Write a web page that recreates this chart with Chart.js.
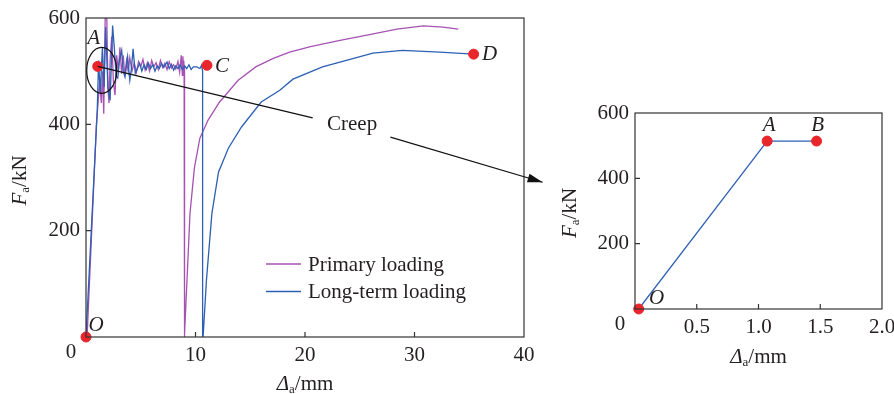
<!DOCTYPE html>
<html>
<head>
<meta charset="utf-8">
<script src="https://cdn.jsdelivr.net/npm/chart.js@4.4.1/dist/chart.umd.min.js"></script>
<style>
  html, body { margin: 0; padding: 0; background: #fff; }
  #wrap { position: relative; width: 894px; height: 394px; }
  #leftBox { position: absolute; left: 0; top: 0; width: 560px; height: 394px; }
  #rightBox { position: absolute; left: 560px; top: 0; width: 334px; height: 394px; }
</style>
</head>
<body>
<div id="wrap">
  <div id="leftBox"><canvas id="chartLeft"></canvas></div>
  <div id="rightBox"><canvas id="chartRight"></canvas></div>
</div>
<script>
// ================================
// DATA
// ================================
const primaryX = [0.1, 0.95, 1.25, 1.4, 1.5, 1.62, 1.72, 1.8, 1.9, 2.0, 2.1, 2.2, 2.35, 2.5, 2.65, 2.8, 2.95, 3.1, 3.25, 3.4, 3.55, 3.7, 3.85, 4.0, 4.2, 4.4, 4.6, 4.8, 5.0, 5.2, 5.4, 5.6, 5.8, 6.0, 6.2, 6.4, 6.6, 6.8, 7.0, 7.2, 7.4, 7.6, 7.8, 8.0, 8.2, 8.4, 8.55, 8.7, 8.8, 8.85, 8.9, 8.93, 8.96, 8.98, 8.98, 9.04, 9.5, 9.9, 10.4, 11.15, 12.2, 13.9, 15.5, 17.1, 18.6, 20.5, 23.2, 26.0, 28.4, 30.8, 32.6, 34.0];
const primaryY = [0, 400, 480, 440, 500, 420, 560, 660, 600, 470, 440, 520, 565, 480, 455, 530, 500, 545, 495, 530, 490, 520, 500, 525, 500, 515, 498, 518, 508, 522, 502, 516, 500, 520, 508, 516, 503, 520, 507, 515, 503, 518, 506, 512, 504, 518, 498, 530, 492, 528, 496, 520, 505, 510, 0, 5, 233, 318, 374, 408, 442, 483, 508, 524, 536, 546, 558, 569, 579, 585, 583, 579];

const longTermX = [0, 1.03, 1.15, 1.3, 1.5, 1.65, 1.8, 2.0, 2.2, 2.43, 2.6, 2.75, 2.9, 3.05, 3.26, 3.4, 3.56, 3.8, 4.0, 4.15, 4.3, 4.5, 4.7, 4.9, 5.1, 5.3, 5.5, 5.7, 5.9, 6.1, 6.3, 6.5, 6.7, 6.9, 7.1, 7.4, 7.6, 7.8, 8.0, 8.2, 8.4, 8.6, 8.8, 9.0, 9.2, 9.4, 9.6, 9.8, 10.1, 10.4, 10.56, 10.65, 10.65, 10.7, 11.0, 11.5, 12.1, 13.0, 14.2, 16.0, 17.7, 18.9, 21.6, 26.2, 28.9, 32.3, 35.4];
const longTermY = [0, 427, 520, 460, 545, 470, 583, 470, 445, 586, 540, 490, 487, 520, 539, 500, 489, 527, 483, 505, 542, 496, 505, 515, 500, 512, 503, 515, 505, 512, 500, 510, 505, 515, 507, 517, 505, 513, 502, 510, 505, 512, 503, 510, 505, 512, 503, 508, 508, 505, 511, 500, 0, 2, 107, 233, 310, 355, 395, 442, 464, 485, 508, 534, 539, 536, 532];

const leftPointNames = ["O", "A", "C", "D"];
const leftPointX = [0, 1.07, 11.05, 35.4];
const leftPointY = [0, 509, 511, 532];

const creepNames = ["O", "A", "B"];
const creepX = [0.03, 1.07, 1.47];
const creepY = [0, 514, 514];

const leftXTicks = [0, 10, 20, 30, 40];
const leftYTicks = [0, 200, 400, 600];
const rightXTicks = [0, 0.5, 1.0, 1.5, 2.0];
const rightYTicks = [0, 200, 400, 600];

const seriesNames = ["Primary loading", "Long-term loading"];

// ================================
// STYLE
// ================================
const PURPLE = "#a652b3";
const BLUE = "#2d5fb3";
const RED = "#e8262b";
const INK = "#231f20";
const SERIF = '"Liberation Serif", "DejaVu Serif", serif';

const pts = (xs, ys) => xs.map((x, i) => ({ x, y: ys[i] }));

function drawTitle(ctx, cx, cy, angle, sym, sub, unit) {
  ctx.save();
  ctx.translate(cx, cy);
  ctx.rotate(angle);
  ctx.fillStyle = INK;
  ctx.textBaseline = "middle";
  ctx.textAlign = "left";
  const fSym = "italic 21px " + SERIF;
  const fSub = "13px " + SERIF;
  const fUnit = "21px " + SERIF;
  ctx.font = fSym; const w1 = ctx.measureText(sym).width;
  ctx.font = fSub; const w2 = ctx.measureText(sub).width;
  ctx.font = fUnit; const w3 = ctx.measureText(unit).width;
  let x = -(w1 + w2 + w3) / 2;
  ctx.font = fSym; ctx.fillText(sym, x, 0); x += w1;
  ctx.font = fSub; ctx.fillText(sub, x, 6); x += w2;
  ctx.font = fUnit; ctx.fillText(unit, x, 0);
  ctx.restore();
}

function drawFrame(chart) {
  const { ctx, chartArea: a, scales } = chart;
  ctx.save();
  ctx.strokeStyle = "#333";
  ctx.lineWidth = 1.2;
  ctx.strokeRect(a.left, a.top, a.right - a.left, a.bottom - a.top);
  ctx.beginPath();
  scales.x.ticks.forEach((t) => {
    const px = scales.x.getPixelForValue(t.value);
    if (px <= a.left + 1 || px >= a.right - 1) return;
    ctx.moveTo(px, a.bottom); ctx.lineTo(px, a.bottom - 5);
  });
  scales.y.ticks.forEach((t) => {
    const py = scales.y.getPixelForValue(t.value);
    if (py <= a.top + 1 || py >= a.bottom - 1) return;
    ctx.moveTo(a.left, py); ctx.lineTo(a.left + 5, py);
  });
  ctx.stroke();
  // shared "0" in the corner
  ctx.fillStyle = INK;
  ctx.font = "21px " + SERIF;
  ctx.textAlign = "center";
  ctx.textBaseline = "middle";
  ctx.fillText("0", a.left - 15, a.bottom + 15);
  ctx.restore();
}

function drawPointLabels(chart, names, xs, ys, offsets) {
  const { ctx, scales } = chart;
  ctx.save();
  ctx.fillStyle = INK;
  ctx.font = "italic 21px " + SERIF;
  ctx.textAlign = "center";
  ctx.textBaseline = "middle";
  names.forEach((n, i) => {
    const px = scales.x.getPixelForValue(xs[i]);
    const py = scales.y.getPixelForValue(ys[i]);
    ctx.fillText(n, px + offsets[n][0], py + offsets[n][1]);
  });
  ctx.restore();
}

// ================================
// LEFT CHART DECORATIONS
// ================================
const leftDecor = {
  id: "leftDecor",
  afterDraw(chart) {
    const { ctx, chartArea: a, scales } = chart;
    const sx = (v) => scales.x.getPixelForValue(v);
    const sy = (v) => scales.y.getPixelForValue(v);
    drawFrame(chart);

    drawTitle(ctx, (a.left + a.right) / 2, a.bottom + 47, 0, "\u0394", "a", "/mm");
    drawTitle(ctx, 20, (a.top + a.bottom) / 2 + 3, -Math.PI / 2, "F", "a", "/kN");

    drawPointLabels(chart, leftPointNames, leftPointX, leftPointY, {
      O: [10, -12], A: [-4, -28], C: [15, 1], D: [16, 0],
    });

    // ellipse around A, leader line, "Creep" and arrow
    const ax = sx(leftPointX[1]);
    const ay = sy(leftPointY[1]);
    ctx.save();
    ctx.strokeStyle = "#111";
    ctx.lineWidth = 1.2;
    ctx.beginPath();
    ctx.ellipse(ax + 4, ay + 4, 15, 23, 0, 0, Math.PI * 2);
    ctx.stroke();

    ctx.beginPath();
    ctx.moveTo(ax, ay);
    ctx.lineTo(sx(20.7), sy(412));
    ctx.stroke();

    ctx.fillStyle = INK;
    ctx.font = "21px " + SERIF;
    ctx.textAlign = "center";
    ctx.textBaseline = "middle";
    ctx.fillText("Creep", sx(24.3), sy(400));

    const x0 = sx(27.8), y0 = sy(376), x1 = sx(41.7), y1 = sy(291);
    ctx.beginPath();
    ctx.moveTo(x0, y0);
    ctx.lineTo(x1, y1);
    ctx.stroke();
    const ang = Math.atan2(y1 - y0, x1 - x0);
    ctx.fillStyle = "#111";
    ctx.beginPath();
    ctx.moveTo(x1, y1);
    ctx.lineTo(x1 - 15 * Math.cos(ang) + 4.5 * Math.sin(ang), y1 - 15 * Math.sin(ang) - 4.5 * Math.cos(ang));
    ctx.lineTo(x1 - 15 * Math.cos(ang) - 4.5 * Math.sin(ang), y1 - 15 * Math.sin(ang) + 4.5 * Math.cos(ang));
    ctx.closePath();
    ctx.fill();

    // legend
    const colors = [PURPLE, BLUE];
    ctx.font = "21px " + SERIF;
    ctx.textAlign = "left";
    seriesNames.forEach((name, i) => {
      const ly = 264 + i * 27.5;
      ctx.strokeStyle = colors[i];
      ctx.lineWidth = 1.4;
      ctx.beginPath();
      ctx.moveTo(266, ly);
      ctx.lineTo(301, ly);
      ctx.stroke();
      ctx.fillStyle = INK;
      ctx.fillText(name, 308, ly + 1);
    });
    ctx.restore();
  },
};

// ================================
// RIGHT CHART DECORATIONS
// ================================
const rightDecor = {
  id: "rightDecor",
  afterDraw(chart) {
    const { ctx, chartArea: a } = chart;
    drawFrame(chart);
    drawTitle(ctx, (a.left + a.right) / 2, a.bottom + 48, 0, "\u0394", "a", "/mm");
    drawTitle(ctx, 10, (a.top + a.bottom) / 2 + 2, -Math.PI / 2, "F", "a", "/kN");
    drawPointLabels(chart, creepNames, creepX, creepY, {
      O: [18, -11], A: [2, -16], B: [1, -16],
    });
  },
};

function axisOpts(min, max, tickList, width, height, fmt) {
  return {
    type: "linear",
    min,
    max,
    afterBuildTicks: (s) => { s.ticks = tickList.map((v) => ({ value: v })); },
    afterFit: (s) => {
      if (width !== null) { s.width = width; s.paddingTop = 0; s.paddingBottom = 0; }
      if (height !== null) { s.height = height; s.paddingLeft = 0; s.paddingRight = 0; }
    },
    grid: { display: false, drawTicks: false },
    border: { display: false },
    ticks: {
      color: INK,
      padding: 6,
      font: { family: SERIF, size: 21 },
      callback: (v) => (v === 0 ? "" : fmt(v)),
    },
  };
}

function markerSet(xs, ys) {
  return {
    type: "scatter",
    data: pts(xs, ys),
    backgroundColor: RED,
    borderColor: RED,
    pointRadius: 5,
    pointHoverRadius: 5,
    clip: false,
  };
}

// ================================
// LEFT CHART
// ================================
new Chart(document.getElementById("chartLeft"), {
  type: "line",
  data: {
    datasets: [
      markerSet(leftPointX, leftPointY),
      {
        label: seriesNames[1],
        data: pts(longTermX, longTermY),
        borderColor: BLUE,
        borderWidth: 1.3,
        pointRadius: 0,
        tension: 0,
      },
      {
        label: seriesNames[0],
        data: pts(primaryX, primaryY),
        borderColor: PURPLE,
        borderWidth: 1.3,
        pointRadius: 0,
        tension: 0,
      },
    ],
  },
  options: {
    responsive: true,
    maintainAspectRatio: false,
    animation: false,
    layout: { padding: { left: 0, right: 36, top: 18, bottom: 0 } },
    plugins: { legend: { display: false }, tooltip: { enabled: false } },
    scales: {
      x: axisOpts(0, 40, leftXTicks, null, 57, (v) => String(v)),
      y: axisOpts(0, 600, leftYTicks, 86, null, (v) => String(v)),
    },
  },
  plugins: [leftDecor],
});

// ================================
// RIGHT CHART
// ================================
new Chart(document.getElementById("chartRight"), {
  type: "line",
  data: {
    datasets: [
      markerSet(creepX, creepY),
      {
        label: "Creep",
        data: pts(creepX, creepY),
        borderColor: BLUE,
        borderWidth: 1.3,
        pointRadius: 0,
        tension: 0,
      },
    ],
  },
  options: {
    responsive: true,
    maintainAspectRatio: false,
    animation: false,
    layout: { padding: { left: 0, right: 12, top: 113, bottom: 0 } },
    plugins: { legend: { display: false }, tooltip: { enabled: false } },
    scales: {
      x: axisOpts(0, 2, rightXTicks, null, 85, (v) => v.toFixed(1)),
      y: axisOpts(0, 600, rightYTicks, 75, null, (v) => String(v)),
    },
  },
  plugins: [rightDecor],
});
</script>
</body>
</html>
